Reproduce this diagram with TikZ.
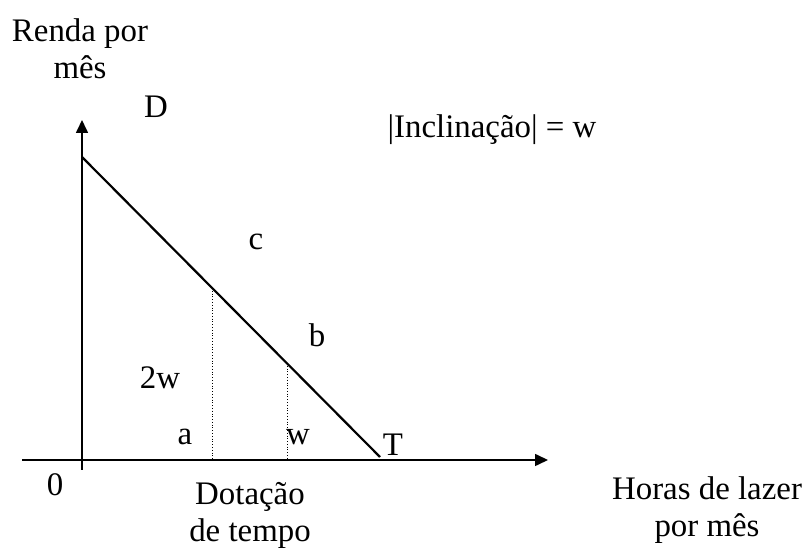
\documentclass[tikz,border=0pt]{standalone}
\usepackage{fontspec}
\setmainfont{Liberation Serif}
\usetikzlibrary{arrows.meta}
\tikzset{
  axis/.style={line width=1.6pt, -{Triangle[length=13bp,width=12bp]}},
  budget/.style={line width=2.2pt},
  guide/.style={line width=0.8pt, dotted},
  lbl/.style={font=\fontsize{33}{37}\selectfont, inner sep=0pt, align=center},
}
\begin{document}
\begin{tikzpicture}[x=1bp,y=1bp]
  \useasboundingbox (0,0) rectangle (808,551);
  % axes
  \coordinate (ybot) at (82,81);
  \coordinate (ytop) at (82,431);
  \coordinate (xleft) at (22,91);
  \coordinate (xright) at (548,91);
  \draw[axis] (ybot) -- (ytop);
  \draw[axis] (xleft) -- (xright);
  % budget line
  \coordinate (dpt) at (82,394);
  \coordinate (tpt) at (380,94);
  \draw[budget] (dpt) -- (tpt);
  % guides down to the axis
  \coordinate (ga) at (212,263);
  \coordinate (gb) at (287,188);
  \coordinate (ga0) at (212,91);
  \coordinate (gb0) at (287,91);
  \draw[guide] (ga) -- (ga0);
  \draw[guide] (gb) -- (gb0);
  % labels
  \node[lbl] (renda) at (80,502) {Renda por\\mês};
  \node[lbl] (dlab) at (156,444) {D};
  \node[lbl] (incl) at (492,421) {|Inclinação| = w};
  \node[lbl] (clab) at (256,309) {c};
  \node[lbl] (blab) at (317,216) {b};
  \node[lbl] (twow) at (160,173) {2w};
  \node[lbl] (alab) at (185,114) {a};
  \node[lbl] (wlab) at (298,114) {w};
  \node[lbl] (tlab) at (393,106) {T};
  \node[lbl] (zero) at (55,66) {0};
  \node[lbl] (dot) at (250,36) {Dotação\\de tempo};
  \node[lbl] (horas) at (707,41) {Horas de lazer\\por mês};
\end{tikzpicture}
\end{document}
